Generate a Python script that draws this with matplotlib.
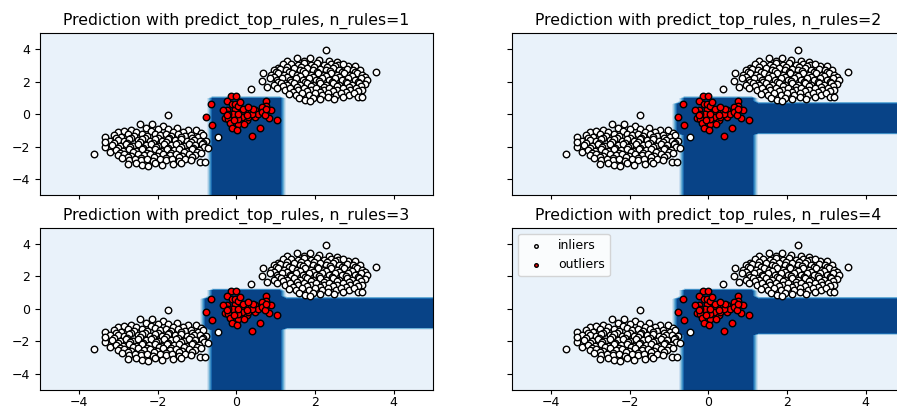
import numpy as np
import matplotlib.pyplot as plt

plt.rcParams['font.size'] = 9

n_rules = [1, 2, 3, 4]

# boxes flagged as outliers by the top rules, one list per panel: (x_min, x_max, y_min, y_max)
rule_boxes = [
    [(-0.66, 1.22, -5.5, 1.07)],
    [(-0.66, 1.19, -5.5, 1.06), (-0.87, 5.5, -1.19, 0.70)],
    [(-0.63, 1.20, -5.5, 1.27), (-0.87, 5.5, -1.19, 0.66)],
    [(-0.66, 1.19, -5.5, 1.27), (-0.87, 5.5, -1.46, 0.66)],
]

inliers_left = [
    (-1.74, -0.06), (-2.46, -0.62), (-2.14, -0.62), (-1.87, -0.72), (-2.67, -0.98), (-3.0, -1.13),
    (-1.23, -1.0), (-1.02, -1.0), (-1.74, -0.92), (-2.3, -0.85), (-1.52, -0.86), (-2.0, -0.9),
    (-2.85, -1.05), (-1.36, -1.12), (-0.9, -1.16), (-2.55, -1.12), (-1.62, -1.08), (-2.18, -1.05),
    (-3.33, -1.44), (-3.12, -1.3), (-2.93, -1.4), (-2.76, -1.24), (-2.6, -1.36), (-2.41, -1.22),
    (-2.27, -1.33), (-2.08, -1.2), (-1.95, -1.31), (-1.79, -1.22), (-1.66, -1.35), (-1.49, -1.24),
    (-1.31, -1.35), (-1.16, -1.27), (-0.97, -1.4), (-0.84, -1.28),
    (-3.05, -1.5), (-2.68, -1.47), (-2.33, -1.5), (-1.99, -1.46), (-1.71, -1.5), (-1.41, -1.44), (-1.12, -1.48),
    (-3.21, -1.63), (-3.0, -1.57), (-2.86, -1.67), (-2.72, -1.55), (-2.51, -1.62), (-2.4, -1.52),
    (-2.19, -1.64), (-2.06, -1.56), (-1.88, -1.66), (-1.73, -1.54), (-1.57, -1.62), (-1.4, -1.56),
    (-1.26, -1.67), (-1.07, -1.57), (-0.93, -1.63), (-0.76, -1.66),
    (-3.1, -1.76), (-2.78, -1.78), (-2.45, -1.74), (-2.12, -1.78), (-1.8, -1.74), (-1.48, -1.78),
    (-1.15, -1.75), (-0.85, -1.78),
    (-3.33, -2.01), (-3.16, -1.88), (-2.97, -1.96), (-2.81, -1.86), (-2.64, -1.97), (-2.49, -1.83),
    (-2.31, -1.93), (-2.16, -1.86), (-1.99, -1.96), (-1.84, -1.83), (-1.67, -1.93), (-1.53, -1.86),
    (-1.34, -1.96), (-1.21, -1.83), (-1.04, -1.93), (-0.87, -1.87),
    (-3.0, -2.08), (-2.7, -2.05), (-2.38, -2.07), (-2.05, -2.04), (-1.75, -2.08), (-1.42, -2.05),
    (-1.1, -2.07), (-0.82, -2.02),
    (-3.22, -2.32), (-3.06, -2.2), (-2.89, -2.29), (-2.73, -2.16), (-2.55, -2.26), (-2.41, -2.13),
    (-2.23, -2.23), (-2.07, -2.16), (-1.91, -2.26), (-1.77, -2.13), (-1.59, -2.23), (-1.46, -2.16),
    (-1.27, -2.26), (-1.13, -2.15), (-0.96, -2.24), (-0.72, -2.11),
    (-2.95, -2.38), (-2.62, -2.36), (-2.28, -2.39), (-1.96, -2.35), (-1.65, -2.38), (-1.33, -2.36), (-1.0, -2.34),
    (-3.01, -2.52), (-2.85, -2.46), (-2.67, -2.56), (-2.51, -2.43), (-2.34, -2.53), (-2.19, -2.46),
    (-2.01, -2.56), (-1.87, -2.43), (-1.69, -2.53), (-1.54, -2.46), (-1.37, -2.56), (-1.21, -2.45),
    (-1.06, -2.51), (-0.89, -2.41),
    (-2.75, -2.66), (-2.42, -2.68), (-2.1, -2.65), (-1.78, -2.68), (-1.46, -2.65), (-1.14, -2.66),
    (-2.9, -2.72), (-2.73, -2.83), (-2.57, -2.76), (-2.43, -2.86), (-2.27, -2.78), (-2.11, -2.88),
    (-1.95, -2.76), (-1.79, -2.86), (-1.63, -2.78), (-1.47, -2.87), (-1.31, -2.75), (-1.16, -2.83),
    (-2.76, -3.1), (-2.56, -3.0), (-2.4, -3.12), (-2.25, -3.2), (-2.06, -3.04), (-1.88, -3.12),
    (-1.61, -3.1), (-1.41, -3.02), (-0.93, -2.98), (-0.8, -2.94),
    (-3.63, -2.48), (-0.46, -1.43), (-3.35, -1.72),
]

inliers_right = [
    (2.27, 3.94), (3.55, 2.58), (0.37, 1.56),
    (1.3, 3.28), (1.54, 3.43), (1.88, 3.43), (2.1, 3.3), (2.35, 3.26), (1.72, 3.24), (2.55, 3.2),
    (1.05, 2.86), (1.2, 3.05), (1.38, 3.1), (1.56, 2.99), (1.73, 3.12), (1.91, 3.04), (2.06, 3.16),
    (2.23, 3.01), (2.4, 3.09), (2.59, 2.99), (2.83, 2.95), (3.02, 2.95), (2.72, 3.08),
    (1.3, 2.9), (1.65, 2.88), (1.98, 2.92), (2.32, 2.88), (2.5, 2.93),
    (0.95, 2.7), (1.12, 2.79), (1.27, 2.69), (1.46, 2.81), (1.61, 2.71), (1.81, 2.83), (1.95, 2.69),
    (2.13, 2.8), (2.29, 2.71), (2.47, 2.82), (2.61, 2.69), (2.81, 2.78), (2.97, 2.68), (3.14, 2.73),
    (1.0, 2.6), (1.35, 2.58), (1.7, 2.62), (2.05, 2.58), (2.38, 2.62), (2.7, 2.58), (3.02, 2.61),
    (0.69, 2.54), (0.87, 2.42), (1.06, 2.51), (1.21, 2.39), (1.41, 2.5), (1.55, 2.41), (1.74, 2.53),
    (1.89, 2.39), (2.07, 2.5), (2.23, 2.41), (2.41, 2.53), (2.55, 2.39), (2.74, 2.51), (2.89, 2.41),
    (3.07, 2.5), (3.21, 2.39),
    (0.95, 2.3), (1.3, 2.28), (1.62, 2.32), (1.96, 2.28), (2.29, 2.31), (2.62, 2.28), (2.95, 2.31), (3.27, 2.28),
    (0.85, 2.2), (1.03, 2.11), (1.17, 2.21), (1.36, 2.09), (1.51, 2.21), (1.69, 2.11), (1.84, 2.23),
    (2.03, 2.09), (2.17, 2.2), (2.36, 2.11), (2.51, 2.23), (2.69, 2.09), (2.84, 2.2), (3.03, 2.11),
    (3.17, 2.21), (3.33, 2.08),
    (1.05, 1.98), (1.4, 2.0), (1.75, 1.97), (2.1, 2.01), (2.44, 1.97), (2.78, 2.0), (3.1, 1.98),
    (0.65, 2.03), (0.95, 1.8), (1.13, 1.91), (1.29, 1.81), (1.47, 1.93), (1.61, 1.79), (1.81, 1.91),
    (1.95, 1.81), (2.13, 1.93), (2.29, 1.79), (2.47, 1.91), (2.61, 1.81), (2.81, 1.93), (2.95, 1.79),
    (3.13, 1.9), (3.27, 1.84), (0.77, 1.64),
    (1.2, 1.7), (1.55, 1.68), (1.9, 1.72), (2.22, 1.68), (2.55, 1.72), (2.88, 1.68), (3.18, 1.7),
    (1.04, 1.6), (1.23, 1.49), (1.37, 1.59), (1.56, 1.47), (1.71, 1.58), (1.89, 1.49), (2.04, 1.61),
    (2.23, 1.49), (2.37, 1.59), (2.56, 1.47), (2.71, 1.58), (2.89, 1.49), (3.04, 1.59), (3.21, 1.5),
    (1.45, 1.38), (1.8, 1.4), (2.12, 1.37), (2.45, 1.41), (2.78, 1.38), (3.1, 1.4),
    (1.34, 1.26), (1.53, 1.19), (1.67, 1.31), (1.86, 1.17), (2.01, 1.29), (2.19, 1.19), (2.34, 1.31),
    (2.53, 1.17), (2.67, 1.29), (2.86, 1.19), (2.99, 1.3),
    (1.6, 0.96), (1.75, 0.84), (1.96, 1.01), (2.14, 0.9), (2.33, 1.02), (2.49, 0.91), (2.71, 1.03),
    (3.1, 1.06), (3.19, 1.06), (1.88, 0.8),
]

outliers = [
    (-0.14, 1.09), (-0.01, 1.09), (-0.24, 0.8), (-0.65, 0.63), (-0.77, -0.18), (-0.62, -0.7),
    (0.39, -1.37), (0.59, -0.86), (1.03, -0.35), (0.84, -0.25), (0.87, 0.23), (0.75, 0.78),
    (0.76, 0.49), (0.66, 0.43), (0.48, 0.23), (0.35, 0.23), (0.22, 0.23), (0.14, 0.18),
    (-0.03, 0.33), (-0.12, 0.6), (-0.24, 0.23), (-0.33, 0.23), (-0.3, -0.23), (-0.2, -0.29),
    (-0.16, -0.55), (-0.12, -0.84), (0.05, -0.6), (0.03, -0.96), (0.28, -0.39), (0.31, -0.18),
    (0.48, -0.18), (0.56, 0.02), (0.39, 0.02), (0.14, -0.18), (-0.03, -0.08), (0.05, -0.29),
    (0.2, -0.6), (-0.03, 0.63), (0.05, 0.47), (0.18, 0.33), (0.65, 0.12), (-0.08, 0.02),
    (-0.2, 0.02), (0.43, 0.33), (0.31, 0.43), (0.09, 0.74), (0.73, -0.08), (-0.24, -0.08),
    (-0.06, -0.39), (0.05, 0.02), (0.76, 0.33), (0.27, -0.04),
]

inliers = np.array(inliers_left + inliers_right)
outl = np.array(outliers)

xx, yy = np.meshgrid(np.linspace(-5, 5, 60), np.linspace(-5, 5, 60))

fig = plt.figure(figsize=(8.97, 4.11), dpi=100)
positions = [
    [0.0444, 0.5249, 0.4381, 0.3954],
    [0.5706, 0.5249, 0.4381, 0.3954],
    [0.0444, 0.0505, 0.4381, 0.3954],
    [0.5706, 0.0505, 0.4381, 0.3954],
]

for i, n in enumerate(n_rules):
    ax = fig.add_axes(positions[i])
    Z = np.zeros_like(xx)
    for (x0, x1, y0, y1) in rule_boxes[i]:
        Z[(xx >= x0) & (xx <= x1) & (yy >= y0) & (yy <= y1)] = 1
    ax.contourf(xx, yy, Z, cmap=plt.cm.Blues)
    ax.scatter(inliers[:, 0], inliers[:, 1], c='white', s=22, edgecolor='k',
               linewidths=1.0, label='inliers')
    ax.scatter(outl[:, 0], outl[:, 1], c='red', s=22, edgecolor='k',
               linewidths=1.0, label='outliers')
    ax.set_xlim(-5, 5)
    ax.set_ylim(-5, 5)
    ax.set_xticks([-4, -2, 0, 2, 4])
    ax.set_yticks([-4, -2, 0, 2, 4])
    ax.tick_params(axis='x', length=3, pad=1)
    ax.tick_params(axis='y', length=3.5, pad=3.5)
    ax.set_title("Prediction with predict_top_rules, n_rules=%d" % n, fontsize=11.3)
    if i < 2:
        ax.tick_params(labelbottom=False)
    if i % 2 == 1:
        ax.tick_params(labelleft=False)
    if i == 3:
        ax.legend(loc='upper left', markerscale=0.55)

plt.savefig("out.png", dpi=100)
